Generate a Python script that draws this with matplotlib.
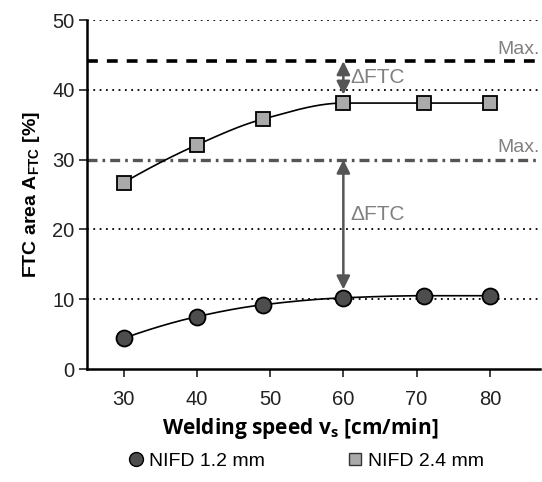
import numpy as np
import matplotlib
matplotlib.use("Agg")
import matplotlib.pyplot as plt
from matplotlib.lines import Line2D

plt.rcParams['font.family'] = ['Liberation Sans', 'DejaVu Sans']

# data
speed = [30, 40, 49, 60, 71, 80]
nifd_12 = [4.4, 7.5, 9.2, 10.2, 10.5, 10.5]
nifd_24 = [26.7, 32.1, 35.8, 38.1, 38.1, 38.1]
max_24 = 44.1
max_12 = 30.0
arrow_x = 60
yticks = [0, 10, 20, 30, 40, 50]
xticks = [30, 40, 50, 60, 70, 80]
labels = ['NIFD 1.2 mm', 'NIFD 2.4 mm']


def smooth(x, y, n=300):
    # monotone cubic (Fritsch-Carlson) through the measured points
    x = np.asarray(x, float)
    y = np.asarray(y, float)
    h = np.diff(x)
    d = np.diff(y) / h
    m = np.zeros_like(y)
    m[0] = ((2 * h[0] + h[1]) * d[0] - h[0] * d[1]) / (h[0] + h[1])
    m[-1] = ((2 * h[-1] + h[-2]) * d[-1] - h[-1] * d[-2]) / (h[-1] + h[-2])
    if m[0] * d[0] <= 0:
        m[0] = 0
    if m[-1] * d[-1] <= 0:
        m[-1] = 0
    for i in range(1, len(x) - 1):
        if d[i - 1] * d[i] <= 0:
            m[i] = 0
        else:
            w1 = 2 * h[i] + h[i - 1]
            w2 = h[i] + 2 * h[i - 1]
            m[i] = (w1 + w2) / (w1 / d[i - 1] + w2 / d[i])
    xs = np.linspace(x[0], x[-1], n)
    k = np.clip(np.searchsorted(x, xs) - 1, 0, len(x) - 2)
    t = (xs - x[k]) / h[k]
    h00 = 2 * t**3 - 3 * t**2 + 1
    h10 = t**3 - 2 * t**2 + t
    h01 = -2 * t**3 + 3 * t**2
    h11 = t**3 - t**2
    ys = h00 * y[k] + h10 * h[k] * m[k] + h01 * y[k + 1] + h11 * h[k] * m[k + 1]
    return xs, ys


fig = plt.figure(figsize=(5.42, 4.82), dpi=100)
ax = fig.add_axes([0.1605, 0.2344, 0.8365, 0.7241])

# gridlines
for yv in [10, 20, 40, 50]:
    ax.axhline(yv, color='black', lw=1.3, ls=(0, (1, 2.5)), zorder=1)

# max lines
ax.axhline(max_24, color='black', lw=2.6, ls=(0, (3, 2.5)), zorder=2)
ax.axhline(max_12, color='#555555', lw=2.4, ls=(0, (3, 1.5, 0.8, 1.5)), zorder=2)
ax.text(86.8, max_24 + 0.5, 'Max.', ha='right', va='bottom', color='#808080', fontsize=14)
ax.text(86.8, max_12 + 0.5, 'Max.', ha='right', va='bottom', color='#808080', fontsize=14)

# curves
xs, ys = smooth(speed, nifd_24)
ax.plot(xs, ys, color='black', lw=1.2, zorder=3)
xs, ys = smooth(speed, nifd_12)
ax.plot(xs, ys, color='black', lw=1.2, zorder=3)
ax.plot(speed, nifd_24, ls='none', marker='s', ms=10.5, mfc='#aaaaaa', mec='black', mew=1.3, zorder=4)
ax.plot(speed, nifd_12, ls='none', marker='o', ms=11.5, mfc='#4d4d4d', mec='black', mew=1.3, zorder=4)

# delta arrows
arr = dict(arrowstyle='<|-|>', color='#555555', lw=1.8, mutation_scale=20, shrinkA=0, shrinkB=0)
ax.annotate('', xy=(arrow_x, max_24), xytext=(arrow_x, nifd_24[3] + 1.2), arrowprops=arr, zorder=5)
ax.annotate('', xy=(arrow_x, max_12), xytext=(arrow_x, nifd_12[3] + 1.2), arrowprops=arr, zorder=5)
ax.text(arrow_x + 1.0, 41.7, '\u0394FTC', color='#808080', fontsize=15, va='center')
ax.text(arrow_x + 1.0, 22.2, '\u0394FTC', color='#808080', fontsize=15, va='center')

ax.set_xlim(25, 86.9)
ax.set_ylim(0, 50)
ax.set_xticks(xticks)
ax.set_yticks(yticks)
ax.tick_params(labelsize=14.5, length=6, width=1.3, direction='out', color='#333333', colors='#222222')
ax.tick_params(axis='x', pad=9)
ax.tick_params(axis='y', pad=3)
for s in ['top', 'right']:
    ax.spines[s].set_visible(False)
for s in ['left', 'bottom']:
    ax.spines[s].set_linewidth(1.8)

ax.set_xlabel('Welding speed v$_\\mathregular{s}$ [cm/min]', fontsize=15, fontweight='bold',
              family=['Open Sans', 'DejaVu Sans'], labelpad=5, x=0.47)
ax.set_ylabel('FTC area A$_\\mathregular{FTC}$ [%]', fontsize=14, fontweight='bold', labelpad=7)

handles = [
    Line2D([], [], ls='none', marker='o', ms=10, mfc='#4d4d4d', mec='black', mew=1.0),
    Line2D([], [], ls='none', marker='s', ms=9, mfc='#aaaaaa', mec='#333333', mew=1.0),
]
fig.legend(handles, labels, loc='lower center', bbox_to_anchor=(0.565, -0.012), ncol=2, frameon=False,
           fontsize=14, handlelength=0.8, handletextpad=0.3, columnspacing=4.2)

fig.savefig('out.png', dpi=100)
